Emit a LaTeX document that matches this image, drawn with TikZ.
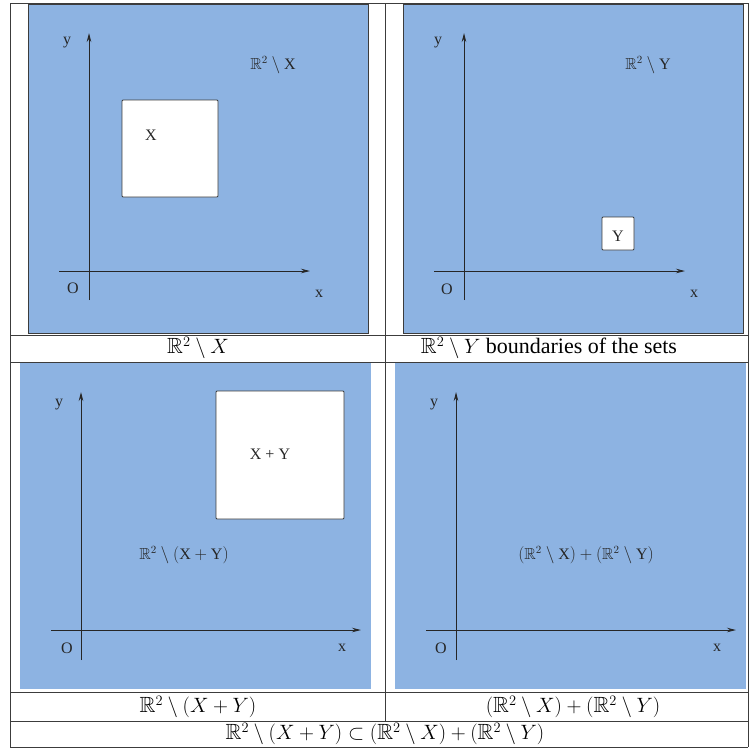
\documentclass[tikz,border=0pt]{standalone}
\usepackage{fontspec}
\setmainfont{Liberation Serif}
\usepackage{amsmath,amssymb}
\usetikzlibrary{arrows.meta}
\definecolor{panelblue}{RGB}{141,179,226}
\definecolor{linegray}{RGB}{60,60,60}
\tikzset{
  panel/.style={fill=panelblue},
  panelframe/.style={fill=panelblue,draw=linegray,line width=0.9pt},
  hole/.style={fill=white,draw=linegray,line width=0.9pt,rounded corners=1pt},
  axis/.style={draw=black!85,line width=0.9pt,-{Stealth[length=9pt,width=4.5pt]}},
  lbl/.style={font=\fontsize{16}{18}\selectfont,inner sep=0pt,text=black!85},
  captxt/.style={font=\fontsize{22}{26}\selectfont,inner sep=0pt},
  tablerule/.style={draw=linegray,line width=0.9pt}
}
\begin{document}
\begin{tikzpicture}[x=1pt,y=-1pt]
\useasboundingbox (0,0) rectangle (752,748);
% panels
\path[panelframe] (28,4) rectangle (368,333);
\path[panelframe] (403,4) rectangle (743,333);
\path[panel] (20,362) rectangle (371,689);
\path[panel] (395,362) rectangle (746,689);
% table grid
\draw[tablerule] (10,3) -- (748,3);
\draw[tablerule] (10,335) -- (748,335);
\draw[tablerule] (10,362) -- (748,362);
\draw[tablerule] (10,692) -- (748,692);
\draw[tablerule] (10,721) -- (748,721);
\draw[tablerule] (10,747) -- (748,747);
\draw[tablerule] (10,3) -- (10,747);
\draw[tablerule] (748,3) -- (748,747);
\draw[tablerule] (385,3) -- (385,721);
% ---- panel 1
\coordinate (a1s) at (59,271); \coordinate (a1e) at (310,271);
\coordinate (b1s) at (89,300); \coordinate (b1e) at (89,33);
\draw[axis] (a1s) -- (a1e);
\draw[axis] (b1s) -- (b1e);
\node[lbl] (y1) at (67,43) {y};
\node[lbl] (o1) at (73,288) {O};
\node[lbl] (x1) at (319,294) {x};
\node[lbl] (r1) at (273,65) {$\mathbb{R}^2\setminus\text{X}$};
\draw[hole] (122,100) rectangle (218,197);
\node[lbl] (X1) at (151,135) {X};
% ---- panel 2
\coordinate (a2s) at (434,271); \coordinate (a2e) at (685,271);
\coordinate (b2s) at (464,300); \coordinate (b2e) at (464,33);
\draw[axis] (a2s) -- (a2e);
\draw[axis] (b2s) -- (b2e);
\node[lbl] (y2) at (438,43) {y};
\node[lbl] (o2) at (447,289) {O};
\node[lbl] (x2) at (694,294) {x};
\node[lbl] (r2) at (648,65) {$\mathbb{R}^2\setminus\text{Y}$};
\draw[hole] (602,217) rectangle (634,250);
\node[lbl] (Y2) at (618,236) {Y};
% ---- panel 3
\coordinate (a3s) at (51,630); \coordinate (a3e) at (361,630);
\coordinate (b3s) at (81,660); \coordinate (b3e) at (81,392);
\draw[axis] (a3s) -- (a3e);
\draw[axis] (b3s) -- (b3e);
\node[lbl] (y3) at (59,405) {y};
\node[lbl] (o3) at (67,648) {O};
\node[lbl] (x3) at (342,648) {x};
\draw[hole] (216,391) rectangle (344,519);
\node[lbl] (XY3) at (270,454) {X + Y};
\node[lbl] (r3) at (184,555) {$\mathbb{R}^2\setminus(\text{X}+\text{Y})$};
% ---- panel 4
\coordinate (a4s) at (426,630); \coordinate (a4e) at (736,630);
\coordinate (b4s) at (456,660); \coordinate (b4e) at (456,392);
\draw[axis] (a4s) -- (a4e);
\draw[axis] (b4s) -- (b4e);
\node[lbl] (y4) at (434,405) {y};
\node[lbl] (o4) at (441,648) {O};
\node[lbl] (x4) at (717,648) {x};
\node[lbl] (r4) at (586,555) {$(\mathbb{R}^2\setminus\text{X})+(\mathbb{R}^2\setminus\text{Y})$};
% ---- captions
\node[captxt] (c1) at (198,348) {$\mathbb{R}^2\setminus X$};
\node[captxt] (c2) at (549,348) {$\mathbb{R}^2\setminus Y$ boundaries of the sets};
\node[captxt] (c3) at (198,707) {$\mathbb{R}^2\setminus(X+Y)$};
\node[captxt] (c4) at (573,707) {$(\mathbb{R}^2\setminus X)+(\mathbb{R}^2\setminus Y)$};
\node[captxt] (c5) at (385,734) {$\mathbb{R}^2\setminus(X+Y)\subset(\mathbb{R}^2\setminus X)+(\mathbb{R}^2\setminus Y)$};
\end{tikzpicture}
\end{document}
